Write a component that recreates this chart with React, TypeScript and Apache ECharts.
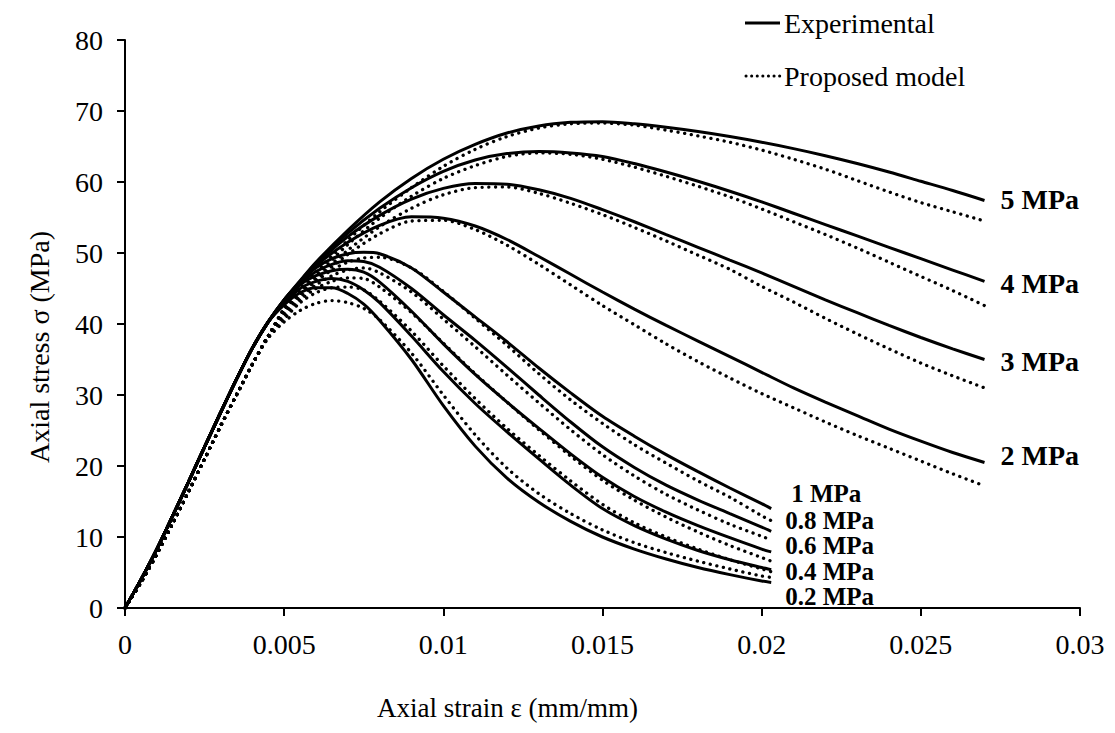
import React, { useEffect, useRef } from "react";
import * as echarts from "echarts";

const FONT = '"Liberation Serif", "Times New Roman", serif';

// Strain grids (mm/mm)
const STRAIN_LONG = [0, 0.0005, 0.001, 0.0015, 0.002, 0.0025, 0.003, 0.0035, 0.004, 0.0045, 0.005, 0.0055, 0.006,
  0.007, 0.008, 0.009, 0.01, 0.011, 0.012, 0.013, 0.014, 0.015, 0.016, 0.017, 0.018, 0.019, 0.02,
  0.021, 0.022, 0.023, 0.024, 0.025, 0.026, 0.027];
const STRAIN_SHORT = [0, 0.0005, 0.001, 0.0015, 0.002, 0.0025, 0.003, 0.0035, 0.004, 0.0045, 0.005, 0.0055, 0.006,
  0.0065, 0.007, 0.0075, 0.008, 0.009, 0.01, 0.011, 0.012, 0.013, 0.014, 0.015, 0.016, 0.017, 0.018,
  0.019, 0.02, 0.0203];

// Experimental stress (MPa)
const EXP_5 = [0, 4.0, 8.3, 13.0, 17.8, 22.7, 27.5, 32.2, 36.6, 40.3, 43.4, 46.1, 48.7, 53.2, 57.2, 60.5, 63.2, 65.3, 66.9, 67.9, 68.4, 68.5, 68.2, 67.7, 67.1, 66.4, 65.6, 64.7, 63.7, 62.6, 61.4, 60.1, 58.8, 57.4];
const EXP_4 = [0, 4.0, 8.3, 13.0, 17.8, 22.7, 27.5, 32.2, 36.6, 40.3, 43.4, 46.0, 48.6, 52.8, 56.3, 59.2, 61.5, 63.1, 64.0, 64.3, 64.1, 63.6, 62.6, 61.4, 60.1, 58.7, 57.2, 55.6, 54.0, 52.4, 50.8, 49.2, 47.6, 46.0];
const EXP_3 = [0, 4.0, 8.3, 13.0, 17.8, 22.7, 27.5, 32.2, 36.6, 40.3, 43.4, 45.9, 48.4, 52.3, 55.3, 57.6, 59.1, 59.8, 59.7, 58.9, 57.7, 56.1, 54.4, 52.6, 50.8, 49.0, 47.2, 45.3, 43.4, 41.6, 39.8, 38.1, 36.5, 35.0];
const EXP_2 = [0, 4.0, 8.3, 13.0, 17.8, 22.7, 27.5, 32.2, 36.6, 40.3, 43.4, 45.7, 48.2, 51.5, 53.9, 55.1, 54.9, 53.8, 51.9, 49.5, 47.0, 44.5, 42.1, 39.8, 37.6, 35.4, 33.2, 31.0, 29.0, 27.1, 25.2, 23.5, 21.9, 20.5];
const EXP_1 = [0, 4.0, 8.3, 13.0, 17.8, 22.7, 27.5, 32.2, 36.6, 40.3, 43.3, 45.9, 47.9, 49.2, 49.9, 50.1, 49.9, 47.9, 44.5, 41.0, 37.5, 33.8, 30.3, 27.0, 24.2, 21.6, 19.2, 16.9, 14.7, 14.0];
const EXP_08 = [0, 4.0, 8.3, 13.0, 17.8, 22.7, 27.5, 32.2, 36.6, 40.3, 43.2, 45.7, 47.4, 48.4, 48.9, 48.8, 48.0, 45.0, 41.3, 37.7, 33.9, 30.0, 26.2, 22.7, 19.8, 17.3, 15.2, 13.3, 11.4, 10.8];
const EXP_06 = [0, 4.0, 8.3, 13.0, 17.8, 22.7, 27.5, 32.2, 36.6, 40.3, 43.1, 45.5, 46.8, 47.5, 47.7, 47.3, 45.9, 41.8, 37.2, 32.9, 29.0, 25.3, 21.7, 18.4, 15.7, 13.5, 11.6, 9.9, 8.3, 7.9];
const EXP_04 = [0, 4.0, 8.3, 13.0, 17.8, 22.7, 27.5, 32.2, 36.6, 40.3, 42.9, 45.0, 46.0, 46.4, 46.0, 44.8, 43.0, 38.3, 33.3, 28.8, 24.8, 21.0, 17.3, 14.0, 11.6, 9.7, 8.1, 6.8, 5.7, 5.4];
const EXP_02 = [0, 4.0, 8.3, 13.0, 17.8, 22.7, 27.5, 32.2, 36.6, 40.3, 42.7, 44.4, 45.1, 45.1, 44.3, 42.8, 40.5, 35.0, 28.5, 22.8, 18.3, 14.9, 12.2, 10.0, 8.3, 6.9, 5.7, 4.7, 3.8, 3.6];

// Proposed model stress (MPa)
const MOD_5 = [0, 3.6, 7.6, 11.9, 16.4, 21.0, 25.6, 30.0, 34.3, 38.3, 42.2, 45.0, 47.3, 51.8, 55.8, 59.2, 62.2, 64.6, 66.4, 67.6, 68.2, 68.3, 68.0, 67.3, 66.5, 65.6, 64.5, 63.2, 61.8, 60.2, 58.6, 57.1, 55.8, 54.5];
const MOD_4 = [0, 3.6, 7.6, 11.9, 16.4, 21.0, 25.6, 30.0, 34.3, 38.3, 42.1, 44.7, 46.8, 51.2, 54.9, 58.0, 60.5, 62.3, 63.6, 64.1, 63.9, 63.2, 62.1, 60.8, 59.4, 57.9, 56.2, 54.4, 52.6, 50.7, 48.7, 46.7, 44.7, 42.6];
const MOD_3 = [0, 3.6, 7.6, 11.9, 16.4, 21.0, 25.6, 30.0, 34.3, 38.3, 42.0, 44.5, 46.5, 50.4, 53.7, 56.3, 58.2, 59.2, 59.3, 58.4, 57.0, 55.4, 53.6, 51.7, 49.7, 47.7, 45.3, 43.1, 40.8, 38.6, 36.5, 34.5, 32.7, 31.0];
const MOD_2 = [0, 3.6, 7.6, 11.9, 16.4, 21.0, 25.6, 30.0, 34.3, 38.3, 41.9, 44.2, 46.2, 49.8, 52.7, 54.5, 54.6, 53.3, 51.1, 48.4, 45.5, 42.6, 39.9, 37.2, 34.7, 32.4, 30.2, 28.2, 26.2, 24.3, 22.5, 20.7, 18.9, 17.2];
const MOD_1 = [0, 3.6, 7.6, 11.9, 16.4, 21.0, 25.6, 30.0, 34.3, 38.3, 41.6, 44.2, 46.0, 47.6, 48.7, 49.3, 49.4, 47.9, 44.6, 40.8, 37.0, 33.0, 29.3, 26.0, 23.0, 20.4, 17.9, 15.6, 13.0, 12.3];
const MOD_08 = [0, 3.6, 7.6, 11.9, 16.4, 21.0, 25.6, 30.0, 34.3, 38.3, 41.4, 43.8, 45.5, 46.8, 47.6, 47.9, 47.2, 44.5, 40.7, 36.8, 32.8, 28.9, 25.1, 21.6, 18.6, 16.0, 13.8, 11.8, 10.1, 9.6];
const MOD_06 = [0, 3.6, 7.6, 11.9, 16.4, 21.0, 25.6, 30.0, 34.3, 38.3, 41.1, 43.4, 45.0, 46.0, 46.5, 46.4, 45.2, 41.6, 37.3, 33.0, 29.0, 25.1, 21.4, 18.0, 15.2, 12.8, 10.7, 8.8, 7.1, 6.6];
const MOD_04 = [0, 3.6, 7.6, 11.9, 16.4, 21.0, 25.6, 30.0, 34.3, 38.3, 40.7, 43.0, 44.4, 45.1, 45.2, 44.8, 43.2, 39.0, 34.1, 29.5, 25.3, 21.5, 17.9, 14.6, 12.0, 10.0, 8.3, 6.8, 5.5, 5.1];
const MOD_02 = [0, 3.6, 7.6, 11.9, 16.4, 21.0, 25.6, 30.0, 34.3, 38.0, 40.3, 41.9, 42.9, 43.3, 43.0, 42.2, 40.6, 35.9, 30.0, 24.4, 19.7, 16.1, 13.3, 11.0, 9.2, 7.8, 6.6, 5.5, 4.5, 4.3];

// Confining pressure labels
const LABELS = ["5 MPa", "4 MPa", "3 MPa", "2 MPa", "1 MPa", "0.8 MPa", "0.6 MPa", "0.4 MPa", "0.2 MPa"];
const EXP_SETS = [EXP_5, EXP_4, EXP_3, EXP_2, EXP_1, EXP_08, EXP_06, EXP_04, EXP_02];
const MOD_SETS = [MOD_5, MOD_4, MOD_3, MOD_2, MOD_1, MOD_08, MOD_06, MOD_04, MOD_02];
const X_TICKS = ["0", "0.005", "0.01", "0.015", "0.02", "0.025", "0.03"];
const LEGEND_NAMES = ["Experimental", "Proposed model"];

// label placement (layout only)
const LABEL_OFFSETS: [number, number][] = [
  [8, -1], [8, 2], [8, 2], [8, -7], [12, -15], [6, -11], [6, -6], [6, 2], [6, 14],
];
const LABEL_SIZES = [28, 28, 28, 28, 25, 25, 25, 25, 25];

const pairs = (xs: number[], ys: number[]) => ys.map((y, i) => [xs[i], y]);

const DOT_STYLE = { width: 3.3, type: [0.1, 6.6], cap: "round" };

export default function App() {
  const ref = useRef<HTMLDivElement>(null);
  useEffect(() => {
    document.body.style.margin = "0";
    const chart = echarts.init(ref.current!, null, { renderer: "svg" });
    const series: any[] = [];
    EXP_SETS.forEach((ys, i) => {
      const xs = i < 4 ? STRAIN_LONG : STRAIN_SHORT;
      series.push({
        name: LEGEND_NAMES[0],
        type: "line",
        data: pairs(xs, ys),
        smooth: 0.3,
        symbol: "none",
        silent: true,
        color: "#000",
        lineStyle: { color: "#000", width: 3 },
        endLabel: {
          show: true,
          formatter: LABELS[i],
          offset: LABEL_OFFSETS[i],
          fontFamily: FONT,
          fontSize: LABEL_SIZES[i],
          lineHeight: 22,
          fontWeight: "bold",
          color: "#000",
          align: "left",
          verticalAlign: "middle",
        },
        z: 2,
      });
    });
    MOD_SETS.forEach((ys, i) => {
      const xs = i < 4 ? STRAIN_LONG : STRAIN_SHORT;
      series.push({
        name: LEGEND_NAMES[1],
        type: "line",
        data: pairs(xs, ys),
        smooth: 0.3,
        symbol: "none",
        silent: true,
        color: "#000",
        lineStyle: { color: "#000", ...DOT_STYLE },
        z: 3,
      });
    });

    const option: any = {
      animation: false,
      backgroundColor: "#fff",
      textStyle: { fontFamily: FONT },
      graphic: [
        { type: "line", shape: { x1: 745, y1: 23, x2: 780, y2: 23 }, style: { stroke: "#000", lineWidth: 3 } },
        {
          type: "text", x: 784, y: 23,
          style: { text: LEGEND_NAMES[0], fontFamily: FONT, fontSize: 28, fill: "#000", verticalAlign: "middle", align: "left" },
        },
        {
          type: "line", shape: { x1: 746, y1: 76, x2: 780, y2: 76 },
          style: { stroke: "#000", lineWidth: 3, lineDash: [0.1, 5.5], lineCap: "round" },
        },
        {
          type: "text", x: 784, y: 76,
          style: { text: LEGEND_NAMES[1], fontFamily: FONT, fontSize: 28, fill: "#000", verticalAlign: "middle", align: "left" },
        },
      ],
      grid: { left: 125, right: 35, top: 40, bottom: 125 },
      xAxis: {
        type: "value",
        min: 0,
        max: 0.03,
        interval: 0.005,
        name: "Axial strain ε (mm/mm)",
        nameLocation: "middle",
        nameGap: 86,
        nameTextStyle: { fontFamily: FONT, fontSize: 27, color: "#000", padding: [0, 190, 0, 0] },
        axisLine: { show: true, lineStyle: { color: "#000", width: 2 } },
        axisTick: { show: true, length: 8, lineStyle: { color: "#000", width: 2 } },
        axisLabel: {
          fontFamily: FONT,
          fontSize: 28,
          color: "#000",
          margin: 22,
          formatter: (v: number) => X_TICKS[Math.round(v / 0.005)] ?? String(v),
        },
        splitLine: { show: false },
      },
      yAxis: {
        type: "value",
        min: 0,
        max: 80,
        interval: 10,
        name: "Axial stress σ (MPa)",
        nameLocation: "middle",
        nameGap: 72,
        nameTextStyle: { fontFamily: FONT, fontSize: 28, color: "#000", padding: [0, 46, 0, 0] },
        axisLine: { show: true, lineStyle: { color: "#000", width: 2 } },
        axisTick: { show: true, length: 8, lineStyle: { color: "#000", width: 2 } },
        axisLabel: { fontFamily: FONT, fontSize: 28, color: "#000", margin: 22 },
        splitLine: { show: false },
      },
      series,
    };
    chart.setOption(option);
    return () => chart.dispose();
  }, []);
  return <div ref={ref} style={{ width: 1115, height: 733 }} />;
}
